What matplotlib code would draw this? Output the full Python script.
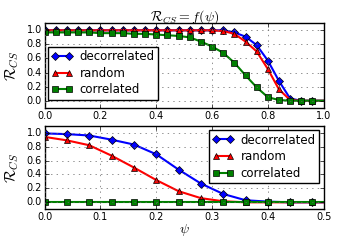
"""
R_CS as a function of psi for three orderings
"""

import numpy as np
import matplotlib
matplotlib.use("Agg")
import matplotlib.pyplot as plt

# top panel: psi in [0, 1]
psi_top = [0.00, 0.04, 0.08, 0.12, 0.16, 0.20, 0.24, 0.28, 0.32, 0.36, 0.40, 0.44,
           0.48, 0.52, 0.56, 0.60, 0.64, 0.68, 0.72, 0.76, 0.80, 0.84, 0.88, 0.92,
           0.96, 1.00]
decor_top = [1.00, 1.00, 1.00, 1.00, 1.00, 1.00, 1.00, 1.00, 1.00, 1.00, 1.00, 1.00,
             1.00, 1.00, 1.00, 1.00, 1.00, 0.97, 0.91, 0.79, 0.57, 0.28, 0.03, 0.00,
             0.00, 0.00]
rand_top = [1.00, 1.00, 1.00, 1.00, 1.00, 1.00, 1.00, 1.00, 1.00, 1.00, 1.00, 1.00,
            1.00, 1.00, 1.00, 1.00, 0.99, 0.95, 0.84, 0.70, 0.45, 0.16, 0.01, 0.00,
            0.00, 0.00]
corr_top = [0.97, 0.97, 0.97, 0.97, 0.97, 0.96, 0.96, 0.96, 0.95, 0.95, 0.94, 0.93,
            0.92, 0.90, 0.84, 0.77, 0.68, 0.54, 0.36, 0.19, 0.05, 0.01, 0.00, 0.00,
            0.00, 0.00]

# bottom panel: psi in [0, 0.5]
psi_bot = [0.00, 0.04, 0.08, 0.12, 0.16, 0.20, 0.24, 0.28, 0.32, 0.36, 0.40, 0.44, 0.48, 0.50]
decor_bot = [0.99, 0.98, 0.96, 0.90, 0.83, 0.69, 0.47, 0.27, 0.12, 0.03, 0.01, 0.00, 0.00, 0.00]
rand_bot = [0.94, 0.89, 0.82, 0.67, 0.50, 0.32, 0.16, 0.06, 0.015, 0.00, 0.00, 0.00, 0.00, 0.00]
corr_bot = [0.01, 0.01, 0.01, 0.01, 0.01, 0.01, 0.01, 0.01, 0.01, 0.01, 0.01, 0.01, 0.01, 0.01]

labels = ["decorrelated", "random", "correlated"]

plt.style.use("classic")
plt.rcParams["mathtext.fontset"] = "cm"

fig = plt.figure(figsize=(3.6, 2.4), dpi=100)
ax1 = fig.add_axes([0.124, 0.551, 0.775, 0.352])
ax2 = fig.add_axes([0.124, 0.128, 0.775, 0.348])


def draw(ax, x, series, xlim, xticks, loc, bbox):
    styles = [("b", "D"), ("r", "^"), ("g", "s")]
    for y, (c, m), lab in zip(series, styles, labels):
        ax.plot(x, y, color=c, marker=m, markersize=4, lw=1.5, mec="k", mew=0.5,
                markevery=slice(0, len(x) - 1), label=lab)
    ax.set_xlim(*xlim)
    ax.set_ylim(-0.1, 1.1)
    ax.set_xticks(xticks)
    ax.set_yticks([0.0, 0.2, 0.4, 0.6, 0.8, 1.0])
    ax.tick_params(labelsize=7, length=3, pad=2)
    ax.grid(True, color="0.4", lw=0.5)
    ax.set_ylabel(r"$\mathcal{R}_{CS}$", fontsize=11, labelpad=4)
    ax.legend(loc=loc, bbox_to_anchor=bbox, borderaxespad=0, fontsize=8.5,
              numpoints=2, handlelength=1.8, borderpad=0.3, labelspacing=0.3,
              handletextpad=0.6)


draw(ax1, psi_top, [decor_top, rand_top, corr_top], (0, 1),
     [0.0, 0.2, 0.4, 0.6, 0.8, 1.0], "lower left", (0.011, 0.092))
draw(ax2, psi_bot, [decor_bot, rand_bot, corr_bot], (0, 0.5),
     [0.0, 0.1, 0.2, 0.3, 0.4, 0.5], "upper right", (0.985, 0.949))

ax1.set_title(r"$\mathcal{R}_{CS} = f(\psi)$", fontsize=10, pad=2)
ax2.set_xlabel(r"$\psi$", fontsize=10, labelpad=0)

fig.savefig("out.png", dpi=100)
